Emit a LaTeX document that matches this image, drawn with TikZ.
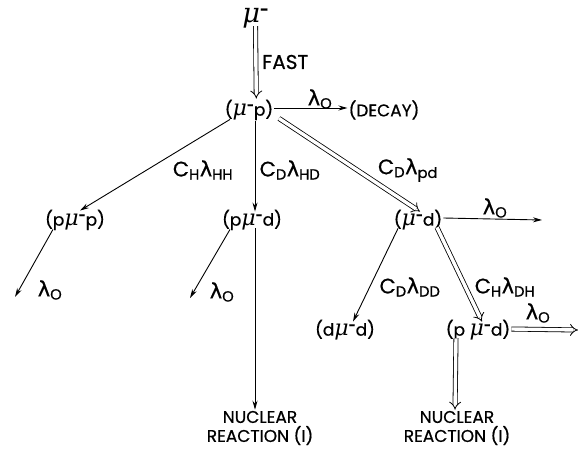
\documentclass[tikz,border=0pt]{standalone}
\usepackage{fontspec}
\setmainfont{Poppins}[FakeBold=0.6]
\newfontfamily\dvs{DejaVu Sans}[FakeBold=0.6]
\newfontfamily\grk{DejaVu Serif}[Scale=1.3]
\usetikzlibrary{arrows.meta}
\newcommand\lam{{\dvs λ}}
\newcommand\mum{{\grk\itshape μ}\textsuperscript{\bfseries −}}
\begin{document}
\begin{tikzpicture}[x=1pt,y=-1pt,
  every node/.style={font=\fontsize{17}{19}\selectfont, inner sep=1pt},
  lbl/.style={font=\fontsize{21}{23}\selectfont},
  sarr/.style={line width=0.9pt, -{Stealth[length=9pt,width=5pt]}},
  darr/.style={line width=0.8pt, double, double distance=3.4pt, -{Implies[length=6pt]}}]
\useasboundingbox (0,0) rectangle (578,449);
% nodes
\node (mu) at (255.5,18) {\fontsize{21}{24}\selectfont\mum};
\node (mup) at (249,110) {(\mum p)};
\node (decay) at (384,110) {(DECAY)};
\node (ppp) at (75,220) {(p\mum p)};
\node (ppd) at (252,220) {(p\mum d)};
\node (mud) at (418,220) {(\mum d)};
\node (dmd) at (345,330) {(d\mum d)};
\node (pmd) at (478,330) {(p \mum d)};
\node[align=center] (nr1) at (260,428) {NUCLEAR\\REACTION (I)};
\node[align=center] (nr2) at (457,428) {NUCLEAR\\REACTION (I)};
\coordinate (e1) at (15,297);
\coordinate (e2) at (190,298);
\coordinate (e3) at (542,220);
\coordinate (e4) at (578,330);
\coordinate (mutop) at ([yshift=3]mu.south);
% connectors
\draw[darr] (mutop) -- ([xshift=0.8]mutop |- mup.north);
\node[anchor=west, font=\fontsize{20}{22}\selectfont] (fast) at (261,62) {FAST};
\draw[sarr] ([yshift=2]mup.east) -- ([yshift=2]decay.west);
\node[lbl] (l1) at (320,99) {\lam\textsubscript{O}};
\draw[sarr] ([xshift=-19,yshift=2]mup.south) -- ([xshift=5,yshift=-2]ppp.north);
\node[lbl] (l2) at (203,170) {C\textsubscript{H}\lam\textsubscript{HH}};
\draw[sarr] ([xshift=6]mup.south) -- ([xshift=3,yshift=-3]ppd.north);
\node[lbl] (l3) at (290,170) {C\textsubscript{D}\lam\textsubscript{HD}};
\draw[darr] ([xshift=30,yshift=3]mup.south) -- ([xshift=2,yshift=-3]mud.north);
\node[lbl] (l4) at (408,170) {C\textsubscript{D}\lam\textsubscript{pd}};
\draw[sarr] ([xshift=-22,yshift=2]ppp.south) -- (e1);
\node[lbl] (l5) at (50,290) {\lam\textsubscript{O}};
\draw[sarr] ([xshift=-22,yshift=2]ppd.south) -- (e2);
\node[lbl] (l6) at (222,292) {\lam\textsubscript{O}};
\draw[sarr] ([xshift=3,yshift=3]ppd.south) -- ([xshift=-5]nr1.north);
\draw[sarr] ([yshift=2]mud.east) -- (e3);
\node[lbl] (l7) at (495,208) {\lam\textsubscript{O}};
\draw[sarr] ([xshift=-20,yshift=3]mud.south) -- ([xshift=8,yshift=-3]dmd.north);
\node[lbl] (l8) at (410,287) {C\textsubscript{D}\lam\textsubscript{DD}};
\draw[darr] ([xshift=19,yshift=4]mud.south) -- ([xshift=4,yshift=-3]pmd.north);
\node[lbl] (l9) at (505,287) {C\textsubscript{H}\lam\textsubscript{DH}};
\draw[darr] ([yshift=1]pmd.east) -- (e4);
\node[lbl] (l10) at (538,313) {\lam\textsubscript{O}};
\draw[darr] ([xshift=-22,yshift=3]pmd.south) -- ([xshift=-2]nr2.north);
\end{tikzpicture}
\end{document}
